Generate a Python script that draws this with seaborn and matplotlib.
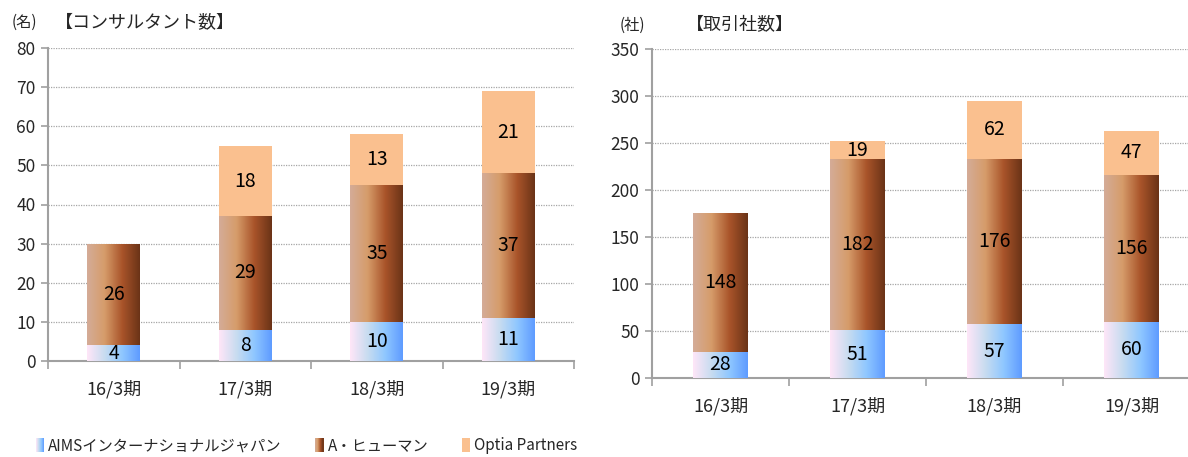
import numpy as np
import pandas as pd
import matplotlib
matplotlib.use("Agg")
import matplotlib.pyplot as plt
import seaborn as sns
from matplotlib.colors import LinearSegmentedColormap
from matplotlib.patches import Rectangle
from matplotlib.legend_handler import HandlerBase

# ---- data ----
periods = ["16/3期", "17/3期", "18/3期", "19/3期"]
series_names = ["AIMSインターナショナルジャパン", "A・ヒューマン", "Optia Partners"]

consultants_aims = [4, 8, 10, 11]
consultants_ahuman = [26, 29, 35, 37]
consultants_optia = [0, 18, 13, 21]

clients_aims = [28, 51, 57, 60]
clients_ahuman = [148, 182, 176, 156]
clients_optia = [0, 19, 62, 47]

# ---- styling ----
sns.set_theme(style="white")
plt.rcParams["font.family"] = ["Noto Sans CJK JP", "DejaVu Sans"]

blue_cmap = LinearSegmentedColormap.from_list(
    "aims", ["#FFE6F8", "#C8DCF0", "#8FC7FF", "#5E9BFF"])
brown_cmap = LinearSegmentedColormap.from_list(
    "ahuman", ["#D4AC98", "#D69C6A", "#A9542A", "#6A3317"])
optia_color = "#FAC08F"
axis_gray = "#A0A0A0"
grad = np.linspace(0, 1, 256).reshape(1, -1)


def gradient_fill(ax, patches, cmap, zorder):
    for p in patches:
        x0, y0 = p.get_x(), p.get_y()
        w, h = p.get_width(), p.get_height()
        if h <= 0:
            continue
        im = ax.imshow(grad, cmap=cmap, aspect="auto",
                       extent=(x0, x0 + w, y0, y0 + h),
                       zorder=zorder, interpolation="bilinear")
        im.set_clip_path(p)


def stacked_chart(ax, aims, ahuman, optia, ymax, step):
    df = pd.DataFrame({"period": periods, "aims": aims,
                       "ahuman": ahuman, "optia": optia})
    df["mid"] = df["aims"] + df["ahuman"]
    df["total"] = df["mid"] + df["optia"]

    layers = [("total", None), ("mid", brown_cmap), ("aims", blue_cmap)]
    for i, (col, cmap) in enumerate(layers):
        n_before = len(ax.patches)
        sns.barplot(data=df, x="period", y=col, ax=ax, width=0.4,
                    color=optia_color if cmap is None else "white",
                    saturation=1, linewidth=0, zorder=2 + 2 * i)
        if cmap is not None:
            gradient_fill(ax, ax.patches[n_before:], cmap, 3 + 2 * i)

    # segment value labels
    for xi, row in df.iterrows():
        for lo, val in [(0, row["aims"]), (row["aims"], row["ahuman"]),
                        (row["mid"], row["optia"])]:
            if val > 0:
                ax.text(xi, lo + val / 2, f"{val}", ha="center", va="center",
                        fontsize=14, color="black", zorder=10)

    ax.set_xlim(-0.5, 3.5)
    ax.set_ylim(0, ymax)
    ax.set_yticks(range(0, ymax + 1, step))
    ax.set_xticks([-0.5, 0.5, 1.5, 2.5, 3.5], minor=True)
    ax.set_xlabel("")
    ax.set_ylabel("")
    ax.yaxis.grid(True, linestyle=(0, (1, 1)), color="#A6A6A6", linewidth=0.9)
    ax.xaxis.grid(False)
    ax.set_axisbelow(True)
    for side in ("top", "right"):
        ax.spines[side].set_visible(False)
    for side in ("left", "bottom"):
        ax.spines[side].set_color(axis_gray)
        ax.spines[side].set_linewidth(1.5)
    ax.tick_params(axis="y", which="major", direction="out", length=5,
                   width=1.2, color=axis_gray, labelsize=12.5, pad=4,
                   left=True)
    ax.tick_params(axis="x", which="major", length=0, labelsize=13, pad=14)
    ax.tick_params(axis="x", which="minor", direction="out", length=6,
                   width=1.2, color=axis_gray, bottom=True)


fig = plt.figure(figsize=(11.88, 4.57), dpi=100)
ax1 = fig.add_axes([48 / 1188, 1 - 361 / 457, 526 / 1188, 313 / 457])
ax2 = fig.add_axes([652 / 1188, 1 - 378 / 457, 548 / 1188, 329 / 457])

stacked_chart(ax1, consultants_aims, consultants_ahuman, consultants_optia, 80, 10)
stacked_chart(ax2, clients_aims, clients_ahuman, clients_optia, 350, 50)

# titles and units
fig.text(12 / 1188, 1 - 22 / 457, "(名)", fontsize=11, va="center", ha="left")
fig.text(55 / 1188, 1 - 22 / 457, "【コンサルタント数】", fontsize=13,
         va="center", ha="left")
fig.text(620 / 1188, 1 - 25 / 457, "(社)", fontsize=11, va="center", ha="left")
fig.text(686 / 1188, 1 - 25 / 457, "【取引社数】", fontsize=13,
         va="center", ha="left")


# legend with gradient swatches
class GradientHandler(HandlerBase):
    def __init__(self, cmap=None, color=None):
        super().__init__()
        self.cmap = cmap
        self.color = color

    def create_artists(self, legend, orig_handle, xdescent, ydescent,
                       width, height, fontsize, trans):
        n = 8
        artists = []
        for k in range(n):
            c = self.color if self.cmap is None else self.cmap((k + 0.5) / n)
            r = Rectangle((-xdescent + k * width / n, -ydescent - 1),
                          width / n + 0.3, height + 2, facecolor=c,
                          edgecolor="none", transform=trans)
            artists.append(r)
        return artists


handles = [Rectangle((0, 0), 1, 1), Rectangle((0, 0), 1, 1),
           Rectangle((0, 0), 1, 1)]
fig.legend(handles, series_names,
           handler_map={handles[0]: GradientHandler(cmap=blue_cmap),
                        handles[1]: GradientHandler(cmap=brown_cmap),
                        handles[2]: GradientHandler(color=optia_color)},
           loc="center left", bbox_to_anchor=(30 / 1188, 1 - 446 / 457),
           ncol=3, frameon=False, fontsize=11, handlelength=0.5,
           handletextpad=0.3, columnspacing=2.2, borderaxespad=0)

fig.savefig("out.png", dpi=100)
